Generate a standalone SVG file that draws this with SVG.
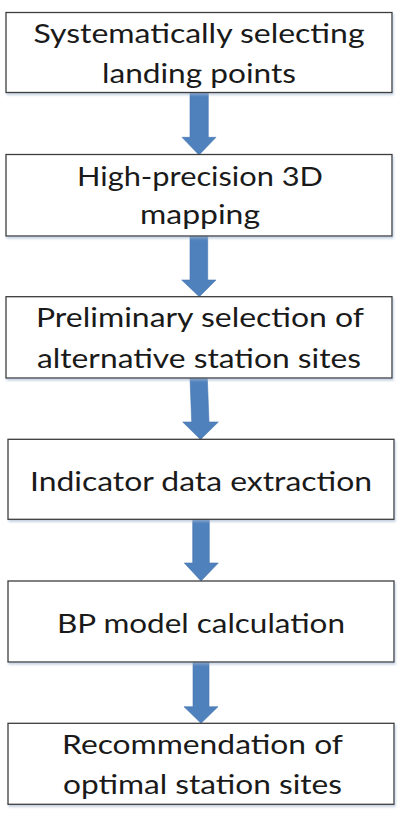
<svg xmlns="http://www.w3.org/2000/svg" width="400" height="822" viewBox="0 0 400 822">
<style>
.box{fill:#ffffff;stroke:#3c3c3c;stroke-width:1.3;filter:url(#sh)}
.lbl{font-family:Lato,"Open Sans","Liberation Sans",sans-serif;font-size:27.5px;fill:#1a1a1a;text-anchor:middle}
.arr{fill:#4f81bd;stroke:#4677b0;stroke-width:0.6}
</style>
<defs>
<filter id="sh" x="-5%" y="-10%" width="110%" height="125%">
<feDropShadow dx="1" dy="2" stdDeviation="1.2" flood-color="#9fb3cf" flood-opacity="0.6"/>
</filter>
</defs>
<rect width="400" height="822" fill="#ffffff"/>
<g id="connectors">
<polygon class="arr" points="190,92.5 208.3,92.5 208.3,137.3 216,137.3 199,155 182,137.3 190,137.3"/>
<polygon class="arr" points="190,236 207.7,236 207.7,280 216,280 199.3,296.7 181.7,280 190,280"/>
<polygon class="arr" points="190,378 207.3,378 209,422 218.3,422 200.5,439.5 182.7,422 191.7,422"/>
<polygon class="arr" points="192.7,519.3 209.3,519.3 209.3,563 218.3,563 201,581 184.3,563 192.7,563"/>
<polygon class="arr" points="193,662 209,662 209,706.7 218,706.7 201,723.3 184,706.7 193,706.7"/>
</g>
<g id="n1">
<rect class="box" x="6" y="12.5" width="386" height="80"/>
<text class="lbl" x="199" y="43" textLength="331" lengthAdjust="spacingAndGlyphs">Systematically selecting</text>
<text class="lbl" x="199" y="83" textLength="194" lengthAdjust="spacingAndGlyphs">landing points</text>
</g>
<g id="n2">
<rect class="box" x="6" y="154.5" width="386" height="81.5"/>
<text class="lbl" x="200" y="185.5" textLength="246" lengthAdjust="spacingAndGlyphs">High-precision 3D</text>
<text class="lbl" x="200" y="224" textLength="120" lengthAdjust="spacingAndGlyphs">mapping</text>
</g>
<g id="n3">
<rect class="box" x="6" y="296.7" width="386" height="81.3"/>
<text class="lbl" x="200" y="327.3" textLength="328" lengthAdjust="spacingAndGlyphs">Preliminary selection of</text>
<text class="lbl" x="199" y="368.3" textLength="324" lengthAdjust="spacingAndGlyphs">alternative station sites</text>
</g>
<g id="n4">
<rect class="box" x="8" y="439.3" width="386" height="80"/>
<text class="lbl" x="201" y="490.7" textLength="342" lengthAdjust="spacingAndGlyphs">Indicator data extraction</text>
</g>
<g id="n5">
<rect class="box" x="8" y="581" width="386" height="81"/>
<text class="lbl" x="201" y="633.3" textLength="288" lengthAdjust="spacingAndGlyphs">BP model calculation</text>
</g>
<g id="n6">
<rect class="box" x="8" y="723.3" width="386" height="81"/>
<text class="lbl" x="202.5" y="754.3" textLength="281" lengthAdjust="spacingAndGlyphs">Recommendation of</text>
<text class="lbl" x="202.5" y="794.3" textLength="279" lengthAdjust="spacingAndGlyphs">optimal station sites</text>
</g>
</svg>
